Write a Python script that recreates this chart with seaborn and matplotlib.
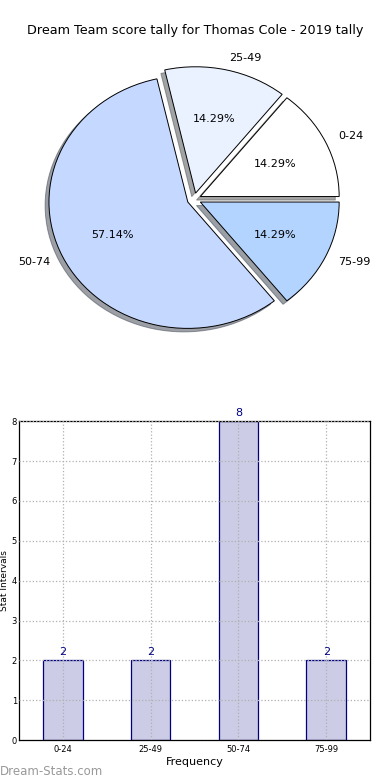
import pandas as pd
import seaborn as sns
import matplotlib.pyplot as plt

# 分數區間與次數
intervals = ['0-24', '25-49', '50-74', '75-99']
counts = [2, 2, 8, 2]
pie_colors = ['#ffffff', '#eaf2ff', '#c5d8ff', '#b3d4ff']

sns.set_style('white')
plt.rcParams['font.family'] = ['DejaVu Sans']
plt.rcParams['text.color'] = 'black'
plt.rcParams['axes.labelcolor'] = 'black'
plt.rcParams['xtick.color'] = 'black'
plt.rcParams['ytick.color'] = 'black'

df = pd.DataFrame({'interval': intervals, 'count': counts})

fig = plt.figure(figsize=(3.9, 7.8), dpi=100)

# 圓餅圖
ax_pie = fig.add_axes([0.0526, 0.542, 0.89, 0.405])
wedges, texts, autotexts = ax_pie.pie(
    df['count'], labels=df['interval'], colors=pie_colors,
    explode=[0.05] * len(df), autopct='%1.2f%%', shadow=True,
    startangle=0, wedgeprops={'edgecolor': 'black', 'linewidth': 0.7},
    textprops={'fontsize': 8, 'color': 'black'})
ax_pie.set_aspect('auto')
ax_pie.set_xlim(-1.25, 1.25)
ax_pie.set_ylim(-1.25, 1.25)
fig.text(0.5, 0.961, 'Dream Team score tally for Thomas Cole - 2019 tally',
         ha='center', va='center', fontsize=9.2, color='black')

# 長條圖
ax_bar = fig.add_axes([0.049, 0.051, 0.90, 0.409])
sns.barplot(data=df, x='interval', y='count', ax=ax_bar, color='#ccccE6',
            edgecolor='#000080', linewidth=0.9, width=0.45, saturation=1)
ax_bar.set_xlim(-0.5, 3.5)
ax_bar.set_ylim(0, 8)
ax_bar.set_yticks(range(0, 9))
ax_bar.grid(True, linestyle=':', color='#b0b0b0', linewidth=0.9)
ax_bar.set_axisbelow(False)
for bar in ax_bar.patches:
    bar.set_zorder(1)
ax_bar.tick_params(direction='in', labelsize=6, length=3, color='#888888',
                   labelcolor='black')
ax_bar.tick_params(axis='y', pad=1.5)
for s in ax_bar.spines.values():
    s.set_color('black')
    s.set_linewidth(0.9)
ax_bar.set_xlabel('Frequency', fontsize=8, labelpad=2)
ax_bar.set_ylabel('Stat Intervals', fontsize=6.5)
ax_bar.yaxis.set_label_coords(-0.03, 0.5)
for i, v in enumerate(counts):
    ax_bar.text(i, v + 0.08, str(v), ha='center', va='bottom',
                fontsize=8, color='#000080')

fig.text(0.0, 0.0115, 'Dream-Stats.com', ha='left', va='center',
         fontsize=8.5, color='#999999')

fig.savefig('out.png', dpi=100)
